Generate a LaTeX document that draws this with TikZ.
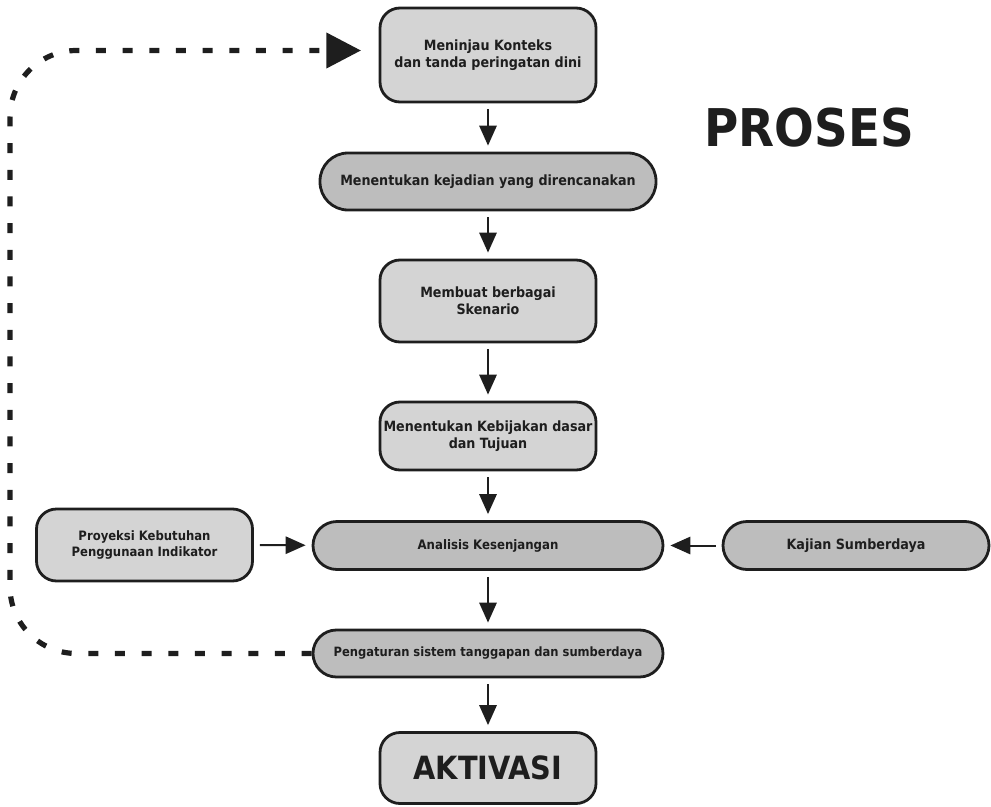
\documentclass[tikz,border=0pt]{standalone}
\usepackage{fontspec}
\setmainfont{DejaVu Sans Condensed}
\usetikzlibrary{arrows.meta}
\definecolor{boxlight}{HTML}{D4D4D4}
\definecolor{boxdark}{HTML}{BDBDBD}
\definecolor{inkline}{HTML}{1E1E1E}
\newcommand{\labelsize}[1]{\bfseries\fontsize{#1}{1.22\dimexpr#1pt\relax}\selectfont}
\begin{document}
\begin{tikzpicture}[x=0.75pt,y=-0.75pt,
  base/.style={draw=inkline,line width=2.1pt,align=center,inner sep=0pt,
    font=\labelsize{10.6},text=inkline},
  lightbox/.style={base,fill=boxlight,rounded corners=15pt,minimum width=162pt},
  pill/.style={base,fill=boxdark,rounded corners=#1},
  flow/.style={draw=inkline,line width=1.5pt,-{Triangle[length=15pt,width=13pt]},
    shorten <=4.5pt,shorten >=4.5pt},
  feedback/.style={draw=inkline,line width=3.9pt,dash pattern=on 7.5pt off 12.5pt,
    rounded corners=50pt,-{Triangle[length=26pt,width=26pt]}}]
\useasboundingbox (0,0) rectangle (991,806);

\node[lightbox,minimum height=70.5pt] (n1) at (488,55) {Meninjau Konteks\\dan tanda peringatan dini};
\node[pill=21pt,minimum width=252pt,minimum height=42.75pt] (n2) at (488,181.5) {Menentukan kejadian yang direncanakan};
\node[lightbox,minimum height=61.5pt] (n3) at (488,301) {Membuat berbagai\\Skenario};
\node[lightbox,minimum height=51pt] (n4) at (488,436) {Menentukan Kebijakan dasar\\dan Tujuan};
\node[pill=18pt,minimum width=262.5pt,minimum height=36pt,font=\labelsize{9.8}] (n5) at (488,545.5) {Analisis Kesenjangan};
\node[lightbox,minimum height=54pt,font=\labelsize{9.7}] (n6) at (144.5,545) {Proyeksi Kebutuhan\\Penggunaan Indikator};
\node[pill=18pt,minimum width=199.5pt,minimum height=36pt] (n7) at (856,545.5) {Kajian Sumberdaya};
\node[pill=17.6pt,minimum width=262.5pt,minimum height=35.25pt,font=\labelsize{9.6}] (n8) at (488,653.5) {Pengaturan sistem tanggapan dan sumberdaya};
\node[lightbox,minimum height=53.25pt,font=\labelsize{24}] (n9) at (488,768) {AKTIVASI};

\node[font=\labelsize{39},text=inkline,inner sep=0pt] (title) at (809,128) {PROSES};

\draw[flow] (n1) -- (n2);
\draw[flow] (n2) -- (n3);
\draw[flow] (n3) -- (n4);
\draw[flow] (n4) -- (n5);
\draw[flow] (n5) -- (n8);
\draw[flow] (n8) -- (n9);
\draw[flow] (n6) -- (n5);
\draw[flow] (n7) -- (n5);

\coordinate (loopbl) at (10,653.5);
\coordinate (looptl) at (10,50.5);
\coordinate (looptip) at (361,50.5);
\draw[feedback] (n8.west) -- (loopbl) -- (looptl) -- (looptip);
\end{tikzpicture}
\end{document}
